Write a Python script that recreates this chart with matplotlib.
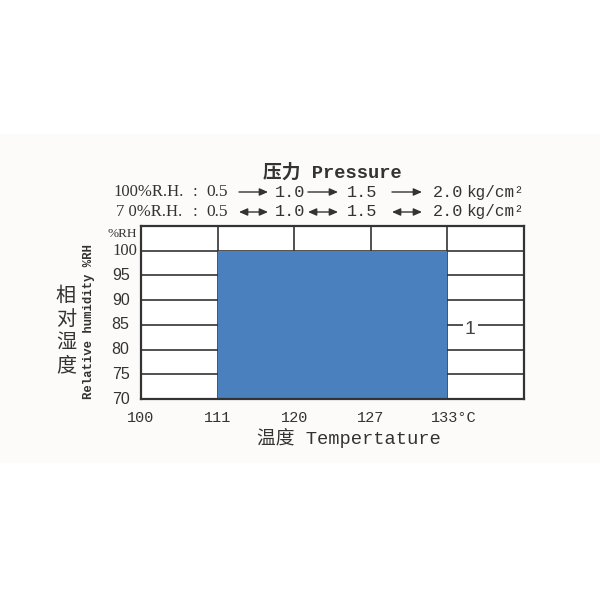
import matplotlib
matplotlib.use('Agg')
import matplotlib.pyplot as plt
from matplotlib.patches import Rectangle, FancyArrowPatch

# data
temp_labels = ['100', '111', '120', '127', '133°C']
rh_ticks = [70, 75, 80, 85, 90, 95, 100]
rh_top = 105
zone_start = 1    # column index of 111
zone_end = 4      # column index of 133
zone_rh_low = 70
zone_rh_high = 100
pressure_100 = ['0.5', '1.0', '1.5', '2.0']
pressure_70 = ['0.5', '1.0', '1.5', '2.0']

W = H = 600
fig = plt.figure(figsize=(6, 6), dpi=100)


def fx(px):
    return px / W


def fy(py):
    return 1 - py / H


# faint grey band behind the chart
fig.patches.append(Rectangle((0, fy(463)), 1, (463 - 134) / H, transform=fig.transFigure,
                             facecolor='#fcfbf9', edgecolor='none', zorder=-10))

ax = fig.add_axes([fx(141), fy(399), (524 - 141) / W, (399 - 226) / H])
ax.set_zorder(2)
ax.set_xlim(0, len(temp_labels))
ax.set_ylim(rh_ticks[0], rh_top)
ax.set_facecolor('white')

line_c = '#333333'
# grid lines
for v in rh_ticks[1:]:
    ax.axhline(v, color=line_c, lw=1.2, zorder=1)
for i in range(1, len(temp_labels)):
    ax.axvline(i, color=line_c, lw=1.2, zorder=1)

# test zone
ax.bar(zone_start, zone_rh_high - zone_rh_low, width=zone_end - zone_start, bottom=zone_rh_low,
       align='edge', color='#4a80bd', zorder=2)

for s in ax.spines.values():
    s.set_color(line_c)
    s.set_linewidth(1.6)
    s.set_zorder(5)

ax.set_xticks([])
ax.set_yticks([])

# x labels
for i, lab in enumerate(temp_labels):
    if lab.endswith('°C'):
        ax.text(i - 0.22, -0.11, lab, transform=ax.get_xaxis_transform(), ha='left', va='center',
                family='Liberation Mono', fontsize=11, color='#333333')
    else:
        ax.text(i, -0.11, lab, transform=ax.get_xaxis_transform(), ha='center', va='center',
                family='Liberation Mono', fontsize=11, color='#333333')

# y tick labels
for v in rh_ticks:
    if v == 100:
        ax.text(-0.01, v, str(v), transform=ax.get_yaxis_transform(), ha='right', va='center',
                family='Liberation Serif', fontsize=12, color='#333333')
    else:
        ax.text(-0.03, v, str(v), transform=ax.get_yaxis_transform(), ha='right', va='center',
                family=['Liberation Sans Narrow', 'Liberation Sans'], fontsize=11.5, color='#333333')
ax.text(-0.01, rh_top - 1.6, '%RH', transform=ax.get_yaxis_transform(), ha='right', va='center',
        family='Liberation Serif', fontsize=9.5, color='#333333')

# label "1" on the right column
ax.text(4.3, 84.0, '1', ha='center', va='center', family='Liberation Sans', fontsize=14,
        color='#444444', zorder=6,
        bbox=dict(facecolor='white', edgecolor='none', pad=1.5))

# axis titles
fig.text(fx(332), fy(173), '压力 Pressure', ha='center', va='center',
         family=['Liberation Mono', 'Noto Sans CJK SC'], fontsize=13.5, fontweight='bold', color='#333333')
fig.text(fx(349), fy(438), '温度 Tempertature', ha='center', va='center',
         family=['Liberation Mono', 'Noto Sans CJK SC'], fontsize=13.5, color='#333333')
fig.text(fx(66), fy(331), '相\n对\n湿\n度', ha='center', va='center',
         family='Noto Sans CJK SC', fontsize=14.5, linespacing=1.12, color='#333333')
fig.text(fx(89), fy(322), 'Relative humidity %RH', ha='center', va='center', rotation=90,
         family='Liberation Mono', fontsize=8.8, fontweight='bold', color='#333333')

# pressure lines
num_x = [290, 362, 448]
arrow_span = [(239, 268), (308, 338), (392, 422)]
for py, head, vals, style in [(192, '100%R.H.', pressure_100, '-|>'),
                              (212, '7 0%R.H.', pressure_70, '<|-|>')]:
    fig.text(fx(149), fy(py), head, ha='center', va='center', family='Liberation Serif',
             fontsize=12, color='#333333')
    fig.text(fx(195), fy(py), ':', ha='center', va='center', family='Liberation Serif',
             fontsize=12, color='#333333')
    fig.text(fx(217), fy(py), vals[0], ha='center', va='center', family='Liberation Serif',
             fontsize=12.5, color='#333333')
    for x, v in zip(num_x, vals[1:]):
        fig.text(fx(x), fy(py), v, ha='center', va='center', family='Liberation Mono',
                 fontsize=12.2, color='#333333')
    for x0, x1 in arrow_span:
        fig.add_artist(FancyArrowPatch((fx(x0), fy(py)), (fx(x1), fy(py)), transform=fig.transFigure,
                                       arrowstyle=style + ',head_length=0.5,head_width=0.22',
                                       mutation_scale=10, lw=1.0, color='#333333',
                                       shrinkA=0, shrinkB=0))
    fig.text(fx(495), fy(py), 'kg/cm²', ha='center', va='center', family='Liberation Mono',
             fontsize=11.5, color='#333333')

fig.savefig('out.png', dpi=100, facecolor='white')
